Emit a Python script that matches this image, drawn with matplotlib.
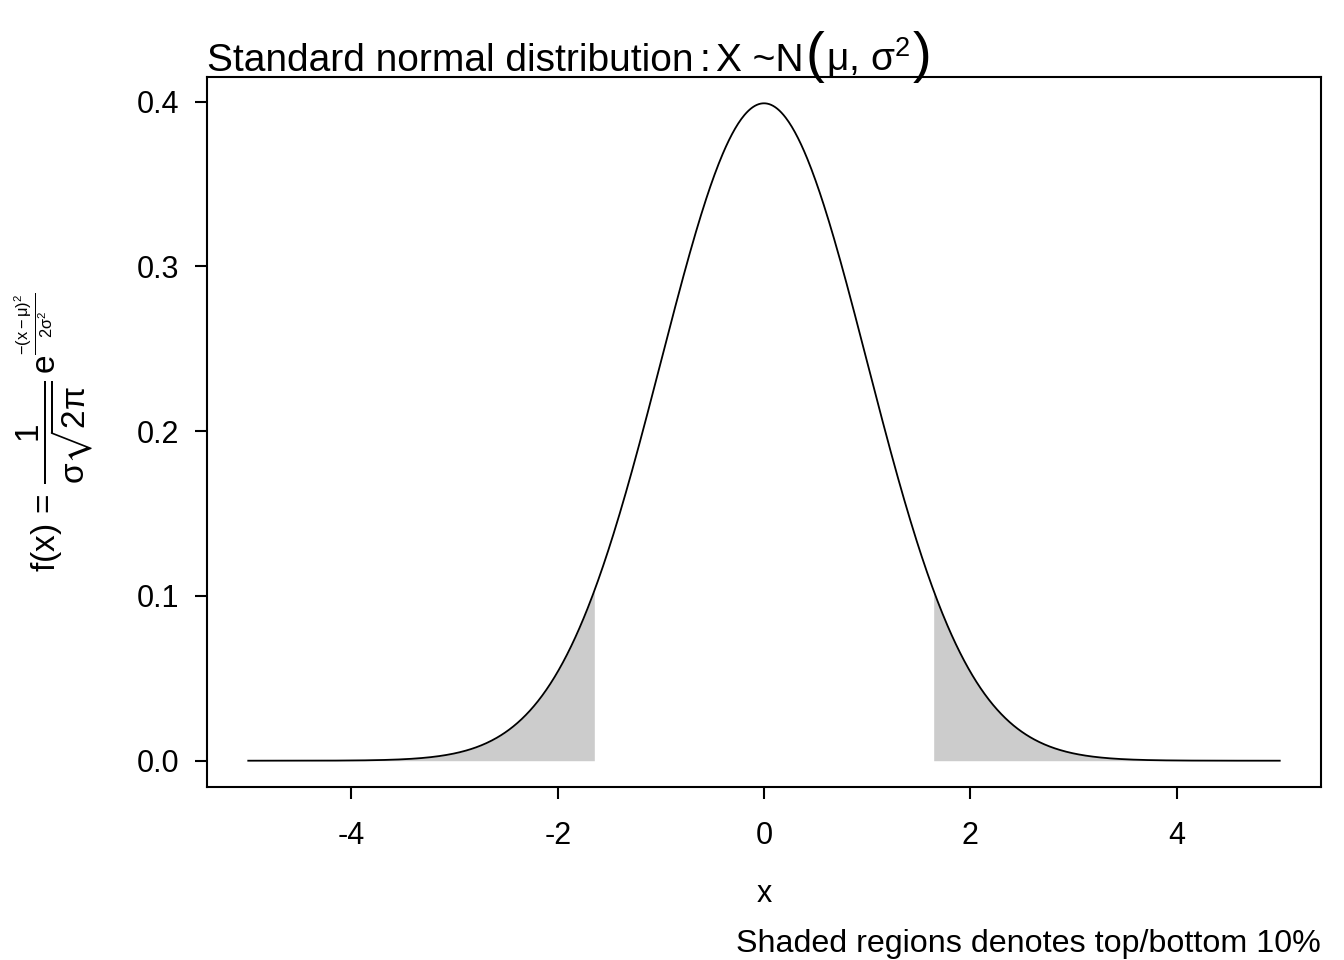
import numpy as np
import matplotlib
matplotlib.use("Agg")
import matplotlib.pyplot as plt

plt.rcParams['font.family'] = ['Liberation Sans', 'DejaVu Sans']
plt.rcParams['mathtext.fontset'] = 'custom'
plt.rcParams['mathtext.rm'] = 'Liberation Sans'
plt.rcParams['mathtext.it'] = 'Liberation Sans'
plt.rcParams['mathtext.sf'] = 'Liberation Sans'
plt.rcParams['mathtext.bf'] = 'Liberation Sans:bold'
plt.rcParams['mathtext.fallback'] = 'stixsans'

# data
x_min, x_max = -5, 5
cutoff = 1.645
xticks = [-4, -2, 0, 2, 4]
yticks = [0.0, 0.1, 0.2, 0.3, 0.4]
ytick_labels = ["0.0", "0.1", "0.2", "0.3", "0.4"]
title_text = "Standard normal distribution"
footer_text = "Shaded regions denotes top/bottom 10%"

x = np.linspace(x_min, x_max, 1001)
y = np.exp(-x**2 / 2) / np.sqrt(2 * np.pi)

fig = plt.figure(figsize=(13.44, 9.6), dpi=100)
ax = fig.add_axes([207/1344, 1 - 787/960, (1321-207)/1344, (787-77)/960])

xl = np.append(x[x <= -cutoff], -cutoff)
yl = np.exp(-xl**2 / 2) / np.sqrt(2 * np.pi)
xr = np.insert(x[x >= cutoff], 0, cutoff)
yr = np.exp(-xr**2 / 2) / np.sqrt(2 * np.pi)
ax.fill_between(xl, 0, yl, color='#cccccc', lw=0)
ax.fill_between(xr, 0, yr, color='#cccccc', lw=0)
ax.plot(x, y, color='black', lw=1.3)

rx = x_max - x_min
ax.set_xlim(x_min - 0.04*rx, x_max + 0.04*rx)
ymax = y.max()
ax.set_ylim(-0.04*ymax, ymax*1.04)

ax.set_xticks(xticks)
ax.set_xticklabels([str(t) for t in xticks])
ax.set_yticks(yticks)
ax.set_yticklabels(ytick_labels)
ax.tick_params(axis='both', labelsize=22, length=8.7, width=1.5, direction='out')
ax.tick_params(axis='x', pad=16)
ax.tick_params(axis='y', pad=11.5)
for s in ax.spines.values():
    s.set_linewidth(1.5)

ax.set_xlabel('x', fontsize=22, labelpad=20)
ax.set_ylabel(r'$\mathregular{f(x)\,=\,\dfrac{1}{\sigma\sqrt{2\pi}}\,e^{\frac{-(x-\mu)^2}{2\sigma^2}}}$',
              fontsize=24)
ax.yaxis.set_label_coords((96 - 207) / 1114, 0.5)

# Title built from pieces (large parentheses like R plotmath)
fig.canvas.draw()
renderer = fig.canvas.get_renderer()
tsize = 28
pieces = [(title_text, tsize, 0), (":", tsize, 6), ("X ~N", tsize, 6), ("(", tsize*1.45, 2),
          (r"μ, σ$^{\mathregular{2}}$", tsize, 2), (")", tsize*1.45, 2)]
xpix = 207
base_y = 960 - 71
for txt, fs, gap in pieces:
    xpix += gap
    t = fig.text(xpix/1344, base_y/960, txt, fontsize=fs, ha='left', va='baseline')
    bb = t.get_window_extent(renderer=renderer)
    xpix = bb.x1

fig.text(1321/1344, 1 - 952/960, footer_text, fontsize=23.2, ha='right', va='baseline')

fig.savefig('out.png', dpi=100)
